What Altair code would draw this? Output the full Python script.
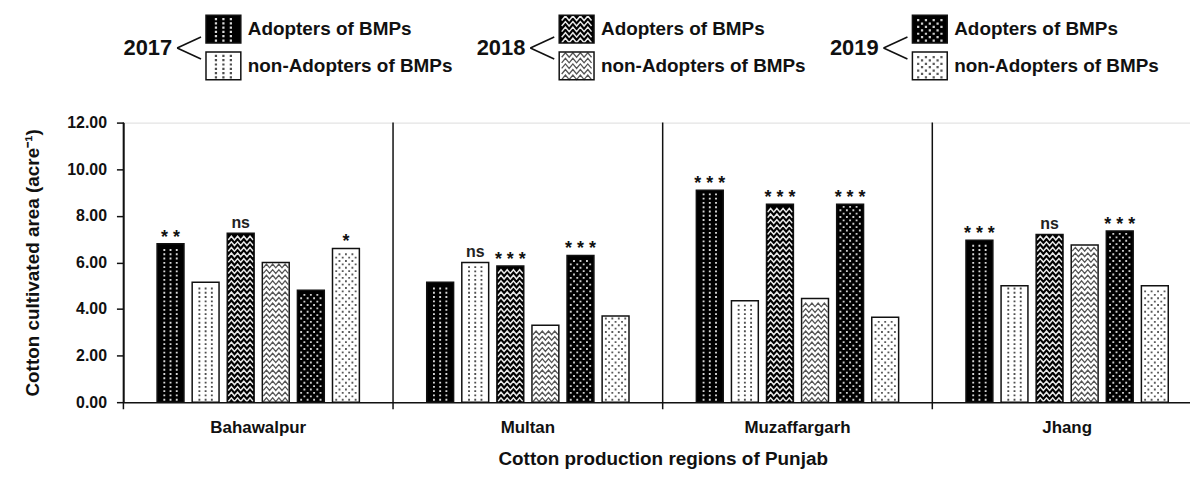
import altair as alt
import pandas as pd

# ---------------- data ----------------
regions = ["Bahawalpur", "Multan", "Muzaffargarh", "Jhang"]
groups = ["A2017", "N2017", "A2018", "N2018", "A2019", "N2019"]
bahawalpur = [6.80, 5.15, 7.25, 6.00, 4.80, 6.60]
multan = [5.15, 6.00, 5.85, 3.30, 6.30, 3.70]
muzaffargarh = [9.10, 4.35, 8.50, 4.45, 8.50, 3.65]
jhang = [6.95, 5.00, 7.20, 6.75, 7.35, 5.00]
sig_bahawalpur = ["**", "", "ns", "", "", "*"]
sig_multan = ["", "ns", "***", "", "***", ""]
sig_muzaffargarh = ["***", "", "***", "", "***", ""]
sig_jhang = ["***", "", "ns", "", "***", ""]
years = ["2017", "2018", "2019"]
legend_labels = ["Adopters of BMPs", "non-Adopters of BMPs"]
y_ticks = [0, 2, 4, 6, 8, 10, 12]

vals = [bahawalpur, multan, muzaffargarh, jhang]
sigs = [sig_bahawalpur, sig_multan, sig_muzaffargarh, sig_jhang]
rows = []
for r, vs, ss in zip(regions, vals, sigs):
    for g, v, s in zip(groups, vs, ss):
        rows.append({"region": r, "series": g, "value": v,
                     "sig": s.replace("*", "* ").strip()})
df = pd.DataFrame(rows)

# ---------------- layout / style ----------------
W, H = 1072, 281
XRANGE = 1084
PXU = H / 12.0
FONT = "Liberation Sans"
INK = "#111111"


def dots(xs, d=0.075):
    return " ".join(f"M{x - d:.3f},{-d:.3f}h{2 * d:.3f}v{2 * d:.3f}h{-2 * d:.3f}Z" for x in xs)


def zigzag(a=0.15, n=8):
    pts = []
    for i in range(n + 1):
        x = -1 + 2 * i / n
        y = a if i % 2 == 0 else -a
        pts.append(f"{x:.3f},{y:.3f}")
    return "M" + " L".join(pts)


COL3 = [dots([-0.5, 0.0, 0.5])]
STAG = [dots([-0.78, -0.26, 0.26, 0.78]), dots([-0.52, 0.0, 0.52])]
ZIG = [zigzag()]

PAT = {
    "A2017": dict(fill="#000000", ink="#d9d9d9", paths=COL3, step=4.3, filled=True, sw=0),
    "N2017": dict(fill="#ffffff", ink="#4d4d4d", paths=COL3, step=4.3, filled=True, sw=0),
    "A2018": dict(fill="#000000", ink="#e8e8e8", paths=ZIG, step=5.6, filled=False, sw=1.5),
    "N2018": dict(fill="#ffffff", ink="#555555", paths=ZIG, step=5.6, filled=False, sw=1.3),
    "A2019": dict(fill="#000000", ink="#cfcfcf", paths=STAG, step=3.4, filled=True, sw=0),
    "N2019": dict(fill="#ffffff", ink="#5a5a5a", paths=STAG, step=3.4, filled=True, sw=0),
}

x_axis = alt.Axis(title="Cotton production regions of Punjab", labelAngle=0, ticks=False,
                  domainColor=INK, domainWidth=1.5, labelFont=FONT, labelFontSize=17,
                  labelFontWeight="bold", labelColor=INK, labelPadding=17,
                  titleFont=FONT, titleFontSize=19, titleFontWeight="bold", titleColor=INK,
                  titlePadding=15)
x_scale = alt.Scale(domain=regions, range=[0, XRANGE], paddingInner=0, paddingOuter=0)
x_enc = alt.X("region:N", sort=regions, scale=x_scale, axis=x_axis)
xo_enc = alt.XOffset("series:N", sort=groups,
                     scale=alt.Scale(domain=groups, paddingInner=0.234, paddingOuter=0.96))
y_axis = alt.Axis(values=y_ticks, format=".2f", title="Cotton cultivated area (acre⁻¹)",
                  grid=False, tickSize=7, tickColor=INK, tickWidth=1.5, domainColor=INK,
                  domainWidth=1.5, labelFont=FONT, labelFontSize=16, labelFontWeight="bold",
                  labelColor=INK, labelPadding=10, titleFont=FONT, titleFontSize=19,
                  titleFontWeight="bold", titleColor=INK, titlePadding=24)
y_scale = alt.Scale(domain=[0, 12], nice=False, zero=True)


def yq(field):
    return alt.Y(field, scale=y_scale, axis=y_axis)


base = alt.Chart(df)

bars = base.mark_bar(strokeWidth=0).encode(
    x=x_enc, xOffset=xo_enc, y=yq("value:Q"),
    fill=alt.Fill("series:N", scale=alt.Scale(domain=groups, range=[PAT[g]["fill"] for g in groups]),
                  legend=None),
)

pattern_layers = []
MARGIN_U = 2.5 / PXU
for g in groups:
    p = PAT[g]
    n = len(p["paths"])
    step_u = p["step"] / PXU
    for i, path in enumerate(p["paths"]):
        start = MARGIN_U + i * step_u
        mk = dict(shape=path, size=625, filled=p["filled"], color=p["ink"], opacity=1)
        if p["sw"] > 0:
            mk.update(strokeWidth=p["sw"])
        layer = (base.transform_filter(alt.datum.series == g)
                 .transform_calculate(ys=f"sequence({start:.4f}, datum.value - {MARGIN_U:.4f}, {step_u * n:.4f})")
                 .transform_flatten(["ys"])
                 .mark_point(**mk)
                 .encode(x=x_enc, xOffset=xo_enc, y=yq("ys:Q")))
        pattern_layers.append(layer)

outline = base.mark_bar(fillOpacity=0, stroke=INK, strokeWidth=1.5).encode(
    x=x_enc, xOffset=xo_enc, y=yq("value:Q"))

stars = base.transform_filter("indexof(datum.sig, '*') >= 0").mark_text(
    font=FONT, fontSize=18, fontWeight="bold", color=INK, baseline="alphabetic", dy=-1
).encode(x=x_enc, xOffset=xo_enc, y=yq("value:Q"), text="sig:N")

ns = base.transform_filter("datum.sig == 'ns'").mark_text(
    font=FONT, fontSize=16, fontWeight="bold", color="#222222", baseline="alphabetic", dy=-5
).encode(x=x_enc, xOffset=xo_enc, y=yq("value:Q"), text="sig:N")

seps = alt.Chart(pd.DataFrame({"region": regions})).mark_rule(color=INK, strokeWidth=1.5).encode(
    x=alt.X("region:N", sort=regions, scale=x_scale, axis=x_axis, bandPosition=0),
    y=alt.value(0), y2=alt.value(H + 7))

# ---------------- custom legend (pixel layout, relative to plot origin) ----------------
offsets = [0, 355, 710]
PX0, PX1 = 83, 118
PATCH_Y = [(-108, -80), (-71, -43)]
LAB_Y = [-94, -57]

year_df = pd.DataFrame({"label": years, "px": [49 + o for o in offsets], "py": [-75] * 3})
lab_rows, patch_rows, chev_rows = [], [], []
leg_pat_layers = []
for yr, o in zip(years, offsets):
    chev_rows.append({"x": 78 + o, "y": -86, "x2": 54 + o, "y2": -75})
    chev_rows.append({"x": 54 + o, "y": -75, "x2": 78 + o, "y2": -64})
    for k, (lab, (t, b), ly) in enumerate(zip(legend_labels, PATCH_Y, LAB_Y)):
        g = ("A" if k == 0 else "N") + yr
        p = PAT[g]
        patch_rows.append({"x": PX0 + o, "x2": PX1 + o, "y": t, "y2": b, "fill": p["fill"]})
        lab_rows.append({"label": lab, "px": 125 + o, "py": ly})
        n = len(p["paths"])
        for i, path in enumerate(p["paths"]):
            ys = []
            yy = b - 2.5 - i * p["step"]
            while yy > t + 2.5:
                ys.append(yy)
                yy -= p["step"] * n
            prow = pd.DataFrame({"px": [(PX0 + PX1) / 2 + o] * len(ys), "py": ys})
            mk = dict(shape=path, size=900, filled=p["filled"], color=p["ink"], opacity=1)
            if p["sw"] > 0:
                mk.update(strokeWidth=p["sw"])
            leg_pat_layers.append(alt.Chart(prow).mark_point(**mk).encode(
                x=alt.X("px:Q", scale=None), y=alt.Y("py:Q", scale=None)))

XN = lambda f: alt.X(f, scale=None)
YN = lambda f: alt.Y(f, scale=None)

leg_patches = alt.Chart(pd.DataFrame(patch_rows)).mark_rect().encode(
    x=XN("x:Q"), x2="x2:Q", y=YN("y:Q"), y2="y2:Q", fill=alt.Fill("fill:N", scale=None))
leg_outline = alt.Chart(pd.DataFrame(patch_rows)).mark_rect(fillOpacity=0, stroke=INK, strokeWidth=1.5).encode(
    x=XN("x:Q"), x2="x2:Q", y=YN("y:Q"), y2="y2:Q")
leg_chev = alt.Chart(pd.DataFrame(chev_rows)).mark_rule(color=INK, strokeWidth=1.6).encode(
    x=XN("x:Q"), x2="x2:Q", y=YN("y:Q"), y2="y2:Q")
leg_years = alt.Chart(year_df).mark_text(font=FONT, fontSize=22, fontWeight="bold", color=INK,
                                         align="right", baseline="middle").encode(
    x=XN("px:Q"), y=YN("py:Q"), text="label:N")
leg_labels = alt.Chart(pd.DataFrame(lab_rows)).mark_text(font=FONT, fontSize=19, fontWeight="bold",
                                                        color=INK, align="left", baseline="middle").encode(
    x=XN("px:Q"), y=YN("py:Q"), text="label:N")

chart = alt.layer(
    bars, *pattern_layers, outline, stars, ns, seps,
    leg_patches, *leg_pat_layers, leg_outline, leg_chev, leg_years, leg_labels,
).properties(
    width=W, height=H,
    padding={"left": 116, "top": 114, "right": 0, "bottom": 71},
    autosize=alt.AutoSizeParams(type="none"),
).configure_view(stroke=None).configure(background="#ffffff")

chart.save("out.html", embed_options={"renderer": "svg", "actions": False})
